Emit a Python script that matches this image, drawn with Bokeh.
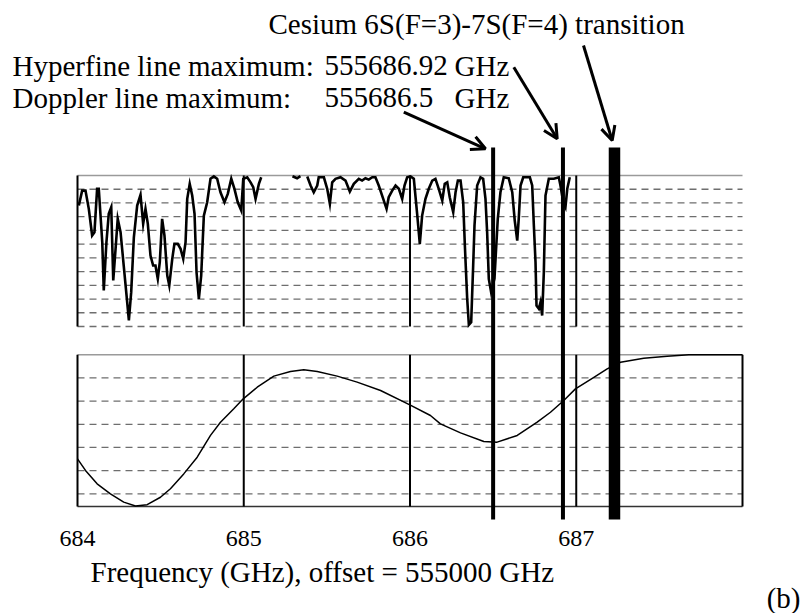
from bokeh.plotting import figure
from bokeh.models import Range1d, Arrow, OpenHead, ColumnDataSource
from bokeh.core.properties import value
from bokeh.embed import file_html
from bokeh.resources import INLINE

NAN = float("nan")

# ---------------- data (frequency in GHz, offset = 555000 GHz) ----------------
TICKS = [684, 685, 686, 687]
TICK_LABELS = ["684", "685", "686", "687"]
X_MIN, X_MAX = 684, 688

# upper panel: hyperfine (Doppler-free) spectrum, in grid divisions (0 = bottom, 11 = top)
top_freq = [
    684.008, 684.028, 684.048, 684.068, 684.088, 684.102, 684.118, 684.128, 684.149, 684.158,
    684.174, 684.188, 684.203, 684.215, 684.229, 684.242, 684.259, 684.278, 684.295, 684.309,
    684.323, 684.339, 684.359, 684.379, 684.395, 684.409, 684.423, 684.439, 684.455, 684.469,
    684.483, 684.495, 684.509, 684.523, 684.540, 684.552, 684.570, 684.583, 684.603, 684.620,
    684.636, 684.650, 684.660, 684.675, 684.690, 684.704, 684.716, 684.730, 684.744, 684.760,
    684.780, 684.800, 684.820, 684.840, 684.860, 684.884, 684.904, 684.925, 684.944, 684.964,
    684.985, 684.997, 685.021, 685.041, 685.057, 685.071, 685.091, 685.105, 685.200,
    685.293, 685.321, 685.341, 685.360,
    685.382, 685.402, 685.421, 685.442, 685.451, 685.482, 685.502, 685.518, 685.532, 685.552,
    685.582, 685.612, 685.638, 685.662, 685.692, 685.712, 685.732, 685.752, 685.773, 685.792,
    685.812, 685.839, 685.859, 685.872, 685.893, 685.913, 685.933, 685.953, 685.967, 685.983,
    686.003, 686.023, 686.043, 686.059, 686.073, 686.093, 686.113, 686.134, 686.153, 686.173,
    686.194, 686.209, 686.224, 686.239, 686.260, 686.274, 686.288, 686.304, 686.320, 686.330,
    686.344, 686.354, 686.368, 686.380, 686.388, 686.404, 686.424, 686.440, 686.454, 686.464,
    686.474, 686.488, 686.508, 686.528, 686.544, 686.564, 686.594, 686.615, 686.630, 686.645,
    686.654, 686.665, 686.681, 686.721, 686.735, 686.745, 686.755, 686.761, 686.775, 686.785,
    686.795, 686.805, 686.815, 686.835, 686.865, 686.895, 686.905, 686.922, 686.935, 686.946,
    686.961,
]
top_level = [
    8.81, 9.90, 9.90, 8.57, 6.63, 6.87, 10.03, 10.03, 6.14, 2.62,
    6.14, 8.21, 8.69, 3.35, 5.66, 7.84, 6.87, 4.44, 2.26, 0.44,
    2.50, 6.50, 8.81, 9.59, 7.48, 8.57, 7.48, 5.17, 4.44, 4.44,
    3.47, 4.68, 7.84, 6.63, 3.71, 2.99, 4.93, 6.02, 6.02, 5.66,
    4.93, 6.14, 9.30, 10.39, 9.54, 8.21, 3.95, 2.02, 3.71, 8.08,
    9.05, 10.76, 10.93, 10.76, 9.78, 9.05, 9.66, 10.76, 10.03, 9.05,
    8.45, 10.76, 10.87, 10.50, 10.15, 9.30, 10.39, 10.87, NAN,
    10.95, 10.80, 10.95, NAN,
    10.93, 10.27, 9.78, 10.27, 10.87, 10.87, 10.03, 8.94, 10.50, 10.76,
    10.87, 10.63, 9.83, 10.39, 10.76, 10.63, 10.80, 10.70, 10.87, 10.87,
    10.27, 9.30, 8.57, 9.42, 9.90, 10.27, 10.03, 9.30, 10.27, 10.87,
    10.93, 10.76, 8.21, 6.02, 8.08, 9.30, 10.03, 10.63, 10.76, 10.03,
    9.18, 10.39, 10.50, 9.42, 8.33, 9.78, 10.63, 10.63, 9.05, 5.90,
    2.02, 0.12, 0.31, 4.44, 7.36, 10.27, 10.87, 10.76, 9.30, 6.87,
    3.47, 2.50, 3.50, 7.84, 9.78, 10.87, 10.80, 9.78, 7.72, 6.26,
    7.84, 10.27, 10.87, 10.87, 10.27, 7.36, 4.68, 1.53, 1.29, 1.77,
    0.80, 3.95, 9.54, 10.76, 10.76, 10.87, 10.27, 9.05, 8.69, 10.03,
    10.87,
]

# lower panel: Doppler-broadened line, in grid divisions (0 = lowest dashed line)
bottom_freq = [
    684.000, 684.048, 684.118, 684.198, 684.278, 684.349, 684.419, 684.499, 684.559, 684.639,
    684.720, 684.800, 684.860, 684.940, 684.997, 685.081, 685.181, 685.281, 685.361, 685.442,
    685.562, 685.682, 685.823, 685.999, 686.123, 686.183, 686.304, 686.444, 686.524, 686.645,
    686.765, 686.845, 686.925, 686.995, 687.106, 687.186, 687.266, 687.406, 687.547, 687.677,
    688.000,
]
bottom_level = [
    1.51, 1.01, 0.43, 0.00, -0.36, -0.53, -0.47, -0.15, 0.22, 0.86,
    1.58, 2.52, 3.09, 3.67, 4.10, 4.60, 5.08, 5.28, 5.35, 5.28,
    5.08, 4.82, 4.46, 3.84, 3.38, 3.02, 2.63, 2.26, 2.23, 2.52,
    3.09, 3.52, 4.03, 4.53, 5.03, 5.39, 5.68, 5.85, 5.94, 6.00,
    6.00,
]

# marked frequencies: Doppler maximum, hyperfine maximum, Cs 6S(F=3)-7S(F=4) transition
mark_freq = [686.50, 686.92, 687.23]

top_dashed_levels = [0, 1, 2, 3, 4, 5, 6, 7, 8, 9, 10]
TOP_MAX = 11
bottom_dashed_levels = [0, 1, 2, 3, 4, 5]
BOTTOM_MAX, BOTTOM_MIN = 6, -0.548

# ---------------- layout ----------------
W, H = 803, 613
PX_PER_GHZ = 665 / 4.0
X_START = X_MIN - 77 / PX_PER_GHZ
X_END = X_START + W / PX_PER_GHZ


def band(v_a, y_a, v_b, y_b, h=H):
    k = (y_a - y_b) / (v_b - v_a)
    return Range1d(start=v_a + (y_a - h) / k, end=v_a + y_a / k)


SERIF = value("Liberation Serif")

p = figure(width=W, height=H, output_backend="svg", toolbar_location=None,
           x_range=Range1d(X_START, X_END), y_range=Range1d(H, 0),
           x_axis_location=None, y_axis_location=None,
           min_border_left=0, min_border_right=0, min_border_top=0, min_border_bottom=0,
           outline_line_color=None, background_fill_color="white",
           border_fill_color="white")
p.title.visible = False
p.grid.visible = False
p.extra_x_ranges = {"px": Range1d(0, W)}
p.extra_y_ranges = {"top": band(0, 326, TOP_MAX, 175),
                    "bot": band(0, 493.3, BOTTOM_MAX, 354.3)}

DASH = "7 5"
GRID_C = "#6e6e6e"

# upper panel frame
n = len(top_dashed_levels)
p.segment(x0=[X_MIN] * n, x1=[X_MAX] * n, y0=top_dashed_levels, y1=top_dashed_levels,
          y_range_name="top", line_color=GRID_C, line_width=1.3, line_dash=DASH)
p.segment(x0=[X_MIN], x1=[X_MAX], y0=[TOP_MAX], y1=[TOP_MAX], y_range_name="top",
          line_color="#9a9a9a", line_width=1.5)

# lower panel frame
n = len(bottom_dashed_levels)
p.segment(x0=[X_MIN] * n, x1=[X_MAX] * n, y0=bottom_dashed_levels, y1=bottom_dashed_levels,
          y_range_name="bot", line_color=GRID_C, line_width=1.3, line_dash=DASH)
p.segment(x0=[X_MIN], x1=[X_MAX], y0=[BOTTOM_MAX], y1=[BOTTOM_MAX], y_range_name="bot",
          line_color="#9a9a9a", line_width=1.5)
p.segment(x0=[X_MIN], x1=[X_MAX], y0=[BOTTOM_MIN], y1=[BOTTOM_MIN], y_range_name="bot",
          line_color="#333333", line_width=1.5)

# curves
p.line(top_freq, top_level, y_range_name="top", line_color="black", line_width=2.6,
       line_join="miter")
p.line(bottom_freq, bottom_level, y_range_name="bot", line_color="black", line_width=1.5)

# vertical division lines
n = len(TICKS)
p.segment(x0=TICKS, x1=TICKS, y0=[0] * n, y1=[TOP_MAX] * n, y_range_name="top",
          line_color="black", line_width=2)
vb = TICKS + [X_MAX]
p.segment(x0=vb, x1=vb, y0=[BOTTOM_MIN] * len(vb), y1=[BOTTOM_MAX] * len(vb),
          y_range_name="bot", line_color="black", line_width=2)

# marked frequencies (thick bars)
msrc = ColumnDataSource(dict(x=mark_freq, w=[4, 4, 11.5]))
p.segment(x0="x", x1="x", y0=147, y1=519, source=msrc, line_color="black",
          line_width="w", line_cap="butt")

# tick labels under the frequency divisions
p.text(x=TICKS, y=[538] * len(TICKS), text=TICK_LABELS, text_font=SERIF,
       text_font_size=value("24px"), text_color="black", text_align="center",
       text_baseline="alphabetic")

# annotation texts (x/y in page pixels)
p.text(x=[268, 12, 324, 454, 12, 324, 454, 90, 800],
       y=[23, 65, 65, 65, 97, 97, 97, 571, 597],
       text=["Cesium 6S(F=3)-7S(F=4) transition",
             "Hyperfine line maximum:", "555686.92", "GHz",
             "Doppler line maximum:", "555686.5", "GHz",
             "Frequency (GHz), offset = 555000 GHz", "(b)"],
       text_align=["left"] * 8 + ["right"],
       x_range_name="px", text_font=SERIF, text_font_size=value("29px"),
       text_color="black", text_baseline="alphabetic")

for (xs, ys, xe, ye) in [(403.3, 111.7, 485.0, 148.3),
                          (513.3, 66.7, 556.7, 138.3),
                          (583.0, 45.0, 611.7, 140.0)]:
    p.add_layout(Arrow(x_start=xs, y_start=ys, x_end=xe, y_end=ye, x_range_name="px",
                       line_color="black", line_width=3,
                       end=OpenHead(size=14, line_width=3, line_color="black")))

open("out.html", "w").write(file_html(p, INLINE))
